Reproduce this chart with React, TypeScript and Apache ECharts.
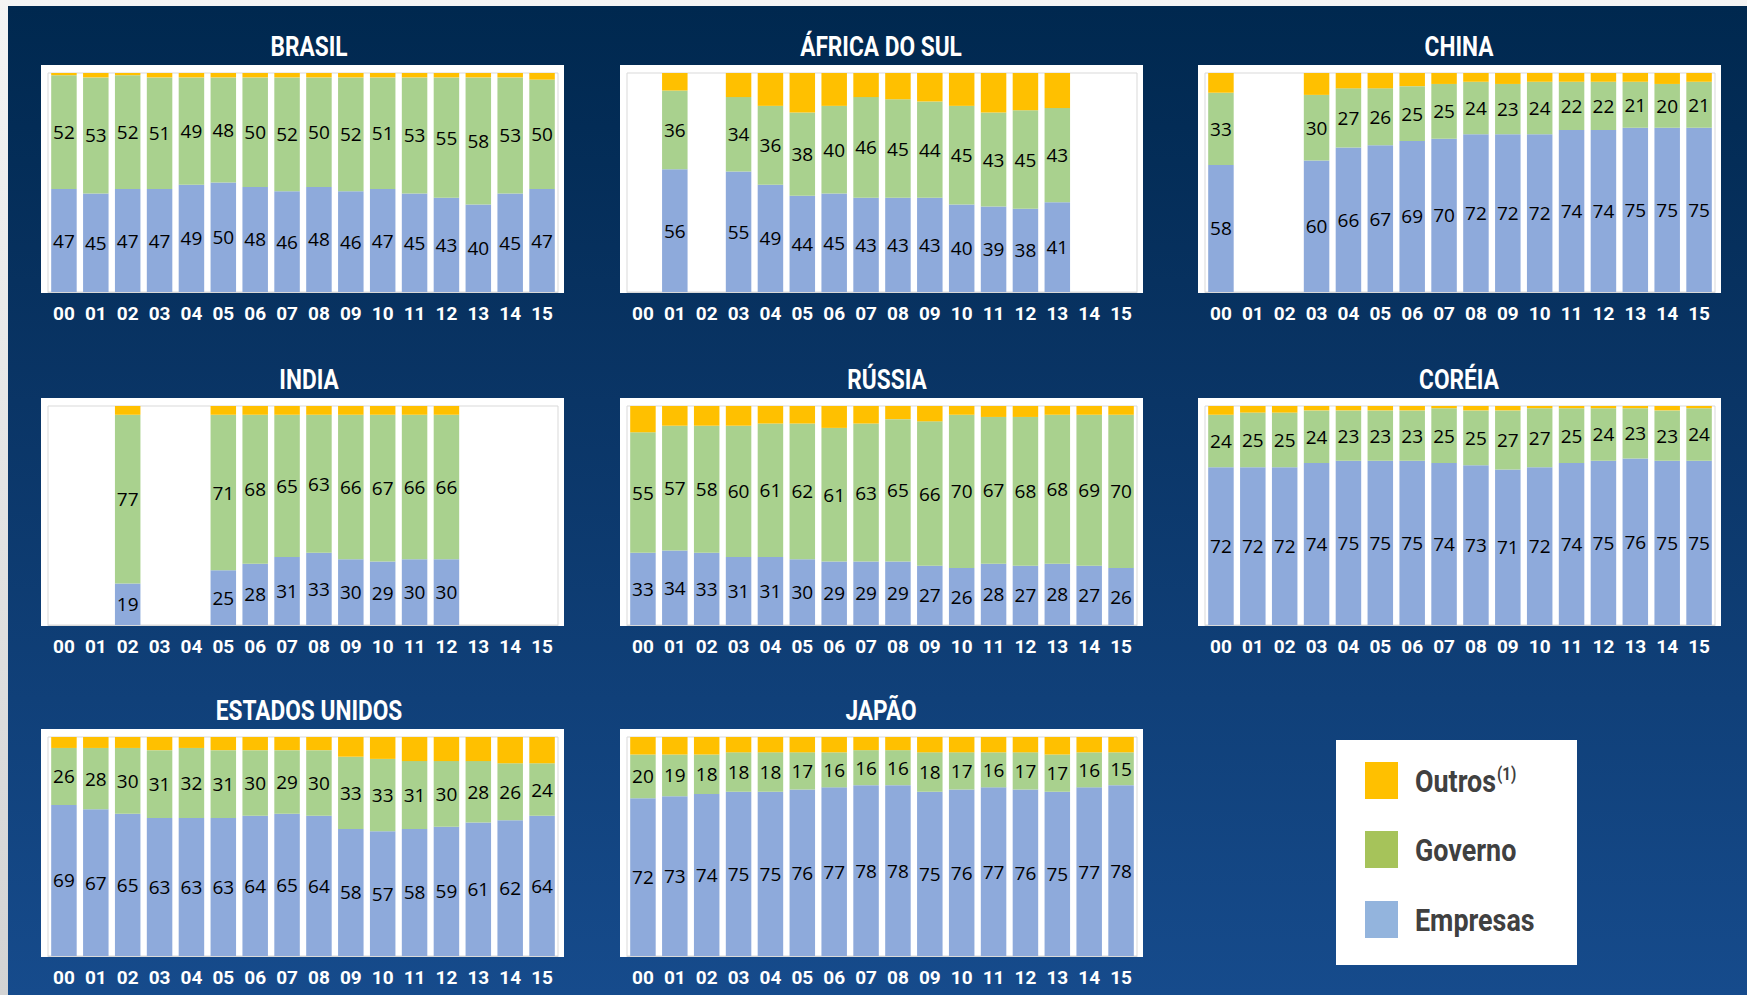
import React, { useEffect, useRef } from "react";
import * as echarts from "echarts";

const categories = ["00", "01", "02", "03", "04", "05", "06", "07", "08", "09", "10", "11", "12", "13", "14", "15"];

const brasilEmpresas = [47, 45, 47, 47, 49, 50, 48, 46, 48, 46, 47, 45, 43, 40, 45, 47];
const brasilGoverno = [52, 53, 52, 51, 49, 48, 50, 52, 50, 52, 51, 53, 55, 58, 53, 50];
const brasilOutros = [1, 2, 1, 2, 2, 2, 2, 2, 2, 2, 2, 2, 2, 2, 2, 3];

const africaEmpresas = [null, 56, null, 55, 49, 44, 45, 43, 43, 43, 40, 39, 38, 41, null, null];
const africaGoverno = [null, 36, null, 34, 36, 38, 40, 46, 45, 44, 45, 43, 45, 43, null, null];
const africaOutros = [null, 8, null, 11, 15, 18, 15, 11, 12, 13, 15, 18, 17, 16, null, null];

const chinaEmpresas = [58, null, null, 60, 66, 67, 69, 70, 72, 72, 72, 74, 74, 75, 75, 75];
const chinaGoverno = [33, null, null, 30, 27, 26, 25, 25, 24, 23, 24, 22, 22, 21, 20, 21];
const chinaOutros = [9, null, null, 10, 7, 7, 6, 5, 4, 5, 4, 4, 4, 4, 5, 4];

const indiaEmpresas = [null, null, 19, null, null, 25, 28, 31, 33, 30, 29, 30, 30, null, null, null];
const indiaGoverno = [null, null, 77, null, null, 71, 68, 65, 63, 66, 67, 66, 66, null, null, null];
const indiaOutros = [null, null, 4, null, null, 4, 4, 4, 4, 4, 4, 4, 4, null, null, null];

const russiaEmpresas = [33, 34, 33, 31, 31, 30, 29, 29, 29, 27, 26, 28, 27, 28, 27, 26];
const russiaGoverno = [55, 57, 58, 60, 61, 62, 61, 63, 65, 66, 70, 67, 68, 68, 69, 70];
const russiaOutros = [12, 9, 9, 9, 8, 8, 10, 8, 6, 7, 4, 5, 5, 4, 4, 4];

const coreiaEmpresas = [72, 72, 72, 74, 75, 75, 75, 74, 73, 71, 72, 74, 75, 76, 75, 75];
const coreiaGoverno = [24, 25, 25, 24, 23, 23, 23, 25, 25, 27, 27, 25, 24, 23, 23, 24];
const coreiaOutros = [4, 3, 3, 2, 2, 2, 2, 1, 2, 2, 1, 1, 1, 1, 2, 1];

const euaEmpresas = [69, 67, 65, 63, 63, 63, 64, 65, 64, 58, 57, 58, 59, 61, 62, 64];
const euaGoverno = [26, 28, 30, 31, 32, 31, 30, 29, 30, 33, 33, 31, 30, 28, 26, 24];
const euaOutros = [5, 5, 5, 6, 5, 6, 6, 6, 6, 9, 10, 11, 11, 11, 12, 12];

const japaoEmpresas = [72, 73, 74, 75, 75, 76, 77, 78, 78, 75, 76, 77, 76, 75, 77, 78];
const japaoGoverno = [20, 19, 18, 18, 18, 17, 16, 16, 16, 18, 17, 16, 17, 17, 16, 15];
const japaoOutros = [8, 8, 8, 7, 7, 7, 7, 6, 6, 7, 7, 7, 7, 8, 7, 7];

const seriesNames = ["Empresas", "Governo", "Outros"];

const COND = "Roboto, 'Liberation Sans', sans-serif";
const LABEL_FONT = "'Open Sans', 'Noto Sans', sans-serif";
const C_EMP = "#8eaadb";
const C_GOV = "#a9d18e";
const C_OUT = "#ffc000";

// page offset of the chart div
const OX = 8;
const OY = 6;

const colX = [41, 620, 1198];
const rowY = [65, 398, 729];
const BOX_W = 523;
const BOX_H = 228;

const panels = [
  { title: "BRASIL", e: brasilEmpresas, g: brasilGoverno, o: brasilOutros, c: 0, r: 0, tx: 309 },
  { title: "ÁFRICA DO SUL", e: africaEmpresas, g: africaGoverno, o: africaOutros, c: 1, r: 0, tx: 881 },
  { title: "CHINA", e: chinaEmpresas, g: chinaGoverno, o: chinaOutros, c: 2, r: 0, tx: 1459 },
  { title: "INDIA", e: indiaEmpresas, g: indiaGoverno, o: indiaOutros, c: 0, r: 1, tx: 309 },
  { title: "RÚSSIA", e: russiaEmpresas, g: russiaGoverno, o: russiaOutros, c: 1, r: 1, tx: 887 },
  { title: "CORÉIA", e: coreiaEmpresas, g: coreiaGoverno, o: coreiaOutros, c: 2, r: 1, tx: 1459 },
  { title: "ESTADOS UNIDOS", e: euaEmpresas, g: euaGoverno, o: euaOutros, c: 0, r: 2, tx: 309 },
  { title: "JAPÃO", e: japaoEmpresas, g: japaoGoverno, o: japaoOutros, c: 1, r: 2, tx: 881 },
];

function buildOption() {
  const grids: any[] = [];
  const xAxes: any[] = [];
  const yAxes: any[] = [];
  const series: any[] = [];
  const graphics: any[] = [];

  panels.forEach((p, i) => {
    const bx = colX[p.c] - OX;
    const by = rowY[p.r] - OY;
    graphics.push({
      type: "rect",
      z: -1,
      shape: { x: bx, y: by, width: BOX_W, height: BOX_H },
      style: { fill: "#ffffff" },
    });
    graphics.push({
      type: "text",
      x: p.tx - OX,
      y: by - 18,
      scaleX: 0.84,
      style: {
        text: p.title,
        fill: "#ffffff",
        font: `bold 27px ${COND}`,
        align: "center",
        verticalAlign: "middle",
        textAlign: "center",
        textVerticalAlign: "middle",
      },
    });
    grids.push({
      left: bx + 7,
      top: by + 8,
      width: BOX_W - 13,
      height: BOX_H - 9,
      show: true,
      backgroundColor: "transparent",
      borderColor: "#d9d9d9",
      borderWidth: 1,
      containLabel: false,
    });
    xAxes.push({
      type: "category",
      gridIndex: i,
      data: categories,
      axisLine: { show: true, lineStyle: { color: "#d9d9d9", width: 1 } },
      axisTick: { show: false },
      axisLabel: {
        interval: 0,
        color: "#ffffff",
        fontFamily: COND,
        fontWeight: "bold",
        fontSize: 19,
        margin: 12,
      },
    });
    yAxes.push({
      type: "value",
      gridIndex: i,
      min: 0,
      max: 100,
      show: false,
      splitLine: { show: false },
    });
    const vals = [p.e, p.g, p.o];
    const colors = [C_EMP, C_GOV, C_OUT];
    vals.forEach((v, k) => {
      series.push({
        type: "bar",
        name: seriesNames[k],
        xAxisIndex: i,
        yAxisIndex: i,
        stack: "s" + i,
        data: v,
        barCategoryGap: "20%",
        itemStyle: { color: colors[k] },
        label: {
          show: k < 2,
          position: "inside",
          color: "#000000",
          fontFamily: LABEL_FONT,
          fontSize: 19,
          formatter: "{c}",
        },
      });
    });
  });

  // legend
  const lx = 1336 - OX;
  const ly = 740 - OY;
  graphics.push({
    type: "rect",
    shape: { x: lx, y: ly, width: 241, height: 225 },
    style: { fill: "#ffffff" },
  });
  const legendItems = [
    { color: C_OUT, rich: true, label: "Outros", dy: 22 },
    { color: "#a6c35a", rich: false, label: "Governo", dy: 91 },
    { color: "#93b4dd", rich: false, label: "Empresas", dy: 161 },
  ];
  legendItems.forEach((it) => {
    graphics.push({
      type: "rect",
      shape: { x: lx + 29, y: ly + it.dy, width: 33, height: 37 },
      style: { fill: it.color },
    });
    graphics.push({
      type: "text",
      x: lx + 79,
      y: ly + it.dy + 19,
      scaleX: 0.84,
      style: it.rich
        ? {
            text: "{a|Outros}{b|(1)}",
            verticalAlign: "middle",
            textVerticalAlign: "middle",
            rich: {
              a: { font: `bold 32px ${COND}`, fill: "#404040", color: "#404040" },
              b: {
                font: `bold 18px ${COND}`,
                fill: "#404040",
                color: "#404040",
                verticalAlign: "top",
                padding: [0, 0, 0, 1],
              },
            },
          }
        : {
            text: it.label,
            fill: "#404040",
            font: `bold 32px ${COND}`,
            verticalAlign: "middle",
            textVerticalAlign: "middle",
          },
    });
  });

  return {
    animation: false,
    backgroundColor: "transparent",
    grid: grids,
    xAxis: xAxes,
    yAxis: yAxes,
    series,
    graphic: { elements: graphics },
  };
}

export default function App() {
  const ref = useRef<HTMLDivElement>(null);
  useEffect(() => {
    document.body.style.margin = "0";
    document.body.style.background = "linear-gradient(to bottom, #f4f4f4, #d3d3d3)";
    document.body.style.minHeight = "995px";
    const chart = echarts.init(ref.current as HTMLDivElement, null, { renderer: "svg" });
    chart.setOption(buildOption() as any);
    return () => chart.dispose();
  }, []);
  return (
    <div
      style={{
        position: "absolute",
        left: OX,
        top: OY,
        width: 1747 - OX,
        height: 995 - OY,
        background: "linear-gradient(to bottom, #00284f 0%, #0a3566 40%, #164b8c 100%)",
      }}
    >
      <div ref={ref} style={{ width: "100%", height: "100%" }} />
    </div>
  );
}
